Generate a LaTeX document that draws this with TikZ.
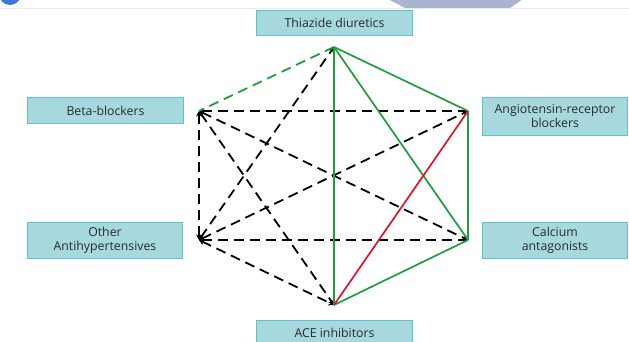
\documentclass[tikz,border=0pt]{standalone}
\usepackage{fontspec}
\setmainfont{Open Sans}
\usetikzlibrary{arrows.meta}
\definecolor{boxfill}{HTML}{A6D8DE}
\definecolor{boxline}{HTML}{5EC3CB}
\definecolor{txt}{HTML}{2B2B2B}
\definecolor{lgreen}{HTML}{1E9E3E}
\definecolor{lred}{HTML}{E0142A}
\definecolor{band}{HTML}{A9B4D2}
\definecolor{dot}{HTML}{3A7BD5}
\tikzset{
  drug/.style={draw=boxline, line width=1pt, fill=boxfill, text=txt, font=\fontsize{12.3}{14}\selectfont, align=center, inner sep=0pt, anchor=north west},
  blk/.style={black, line width=1.8pt, dash pattern=on 10pt off 6pt, {Stealth[length=5.5pt,width=6pt]}-{Stealth[length=5.5pt,width=6pt]}},
  grn/.style={lgreen, line width=1.7pt},
  grnd/.style={lgreen, line width=1.8pt, dash pattern=on 10pt off 6pt},
  rd/.style={lred, line width=1.7pt}
}
\begin{document}
\begin{tikzpicture}[x=1pt,y=-1pt]
\useasboundingbox (0,0) rectangle (629,341);
\clip (0,0) rectangle (629,341);
\fill[white] (0,0) rectangle (629,341);
% slide decorations
\fill[band] (388,-1) -- (523,-1) -- (510,8) -- (405,8) -- cycle;
\fill[dot] (10,-6) circle (11);
\draw[gray!15, line width=0.6pt] (0,8.5) -- (629,8.5);
% boxes
\node[drug, minimum width=156, minimum height=25] (thz) at (256,10) {Thiazide diuretics};
\node[drug, minimum width=156, minimum height=26] (bb) at (27,97) {Beta-blockers};
\node[drug, minimum width=155, minimum height=36] (oth) at (27,222) {Other\\Antihypertensives};
\node[drug, minimum width=145, minimum height=38] (arb) at (482,97) {Angiotensin-receptor\\blockers};
\node[drug, minimum width=145, minimum height=36] (cca) at (482,222) {Calcium\\antagonists};
\node[drug, minimum width=156, minimum height=25] (ace) at (256,320) {ACE inhibitors};
% vertices
\coordinate (T) at (334,47);
\coordinate (B) at (199,111);
\coordinate (A) at (468,111);
\coordinate (O) at (199,240);
\coordinate (C) at (468,240);
\coordinate (E) at (334,305);
% black dashed
\draw[blk] (B) -- (A);
\draw[blk] (B) -- (O);
\draw[blk] (B) -- (C);
\draw[blk] (B) -- (E);
\draw[blk] (O) -- (T);
\draw[blk] (O) -- (A);
\draw[blk] (O) -- (C);
\draw[blk] (O) -- (E);
% green / red
\draw[grnd] (T) -- (B);
\draw[grn] (T) -- (A);
\draw[grn] (T) -- (C);
\draw[grn] (T) -- (E);
\draw[grn] (A) -- (C);
\draw[grn] (C) -- (E);
\draw[rd] (A) -- (E);
\end{tikzpicture}
\end{document}
